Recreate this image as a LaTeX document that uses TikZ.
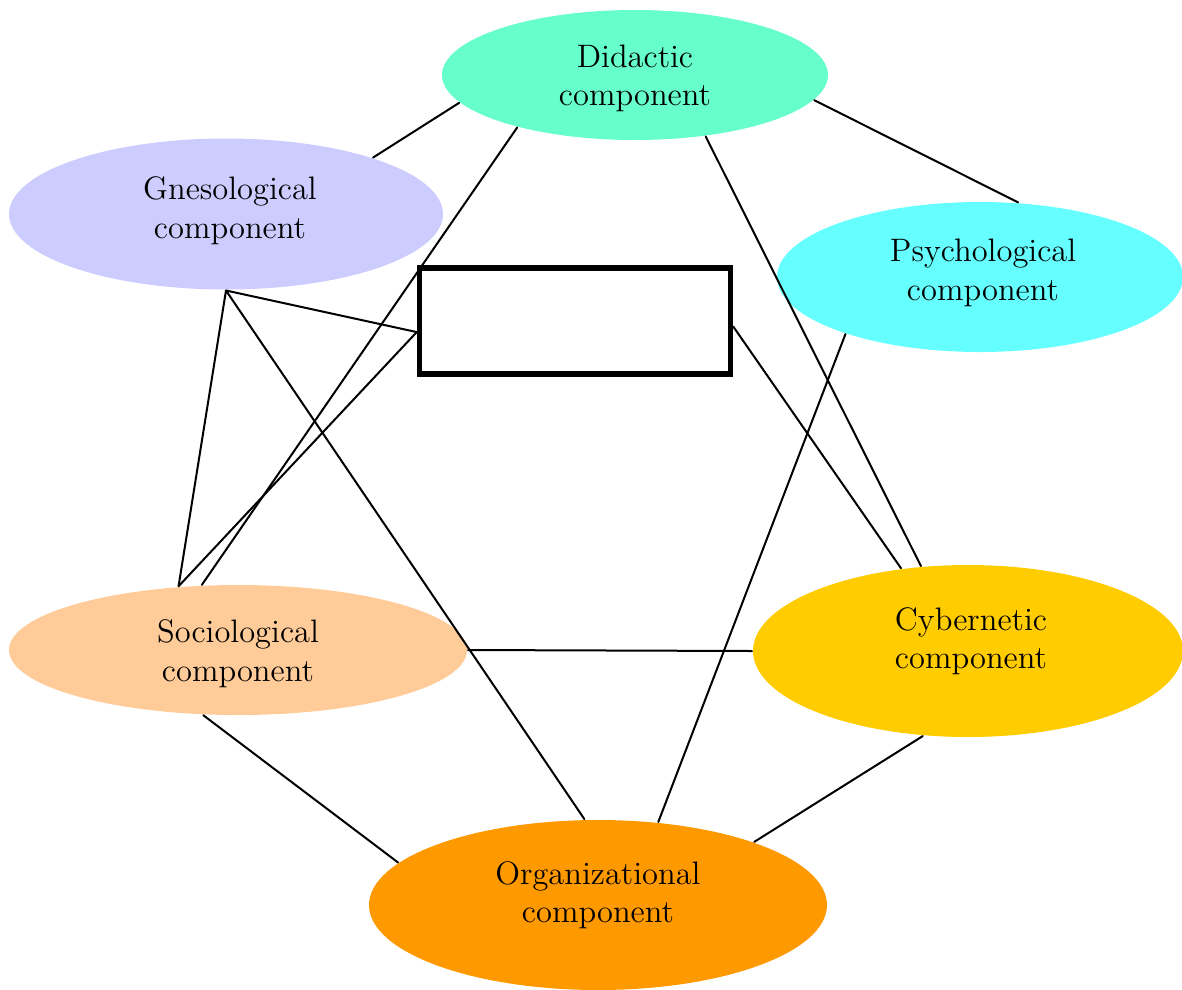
\documentclass[tikz,border=0pt]{standalone}
\usetikzlibrary{shapes.geometric}
\definecolor{didcol}{HTML}{66FFCC}
\definecolor{gnecol}{HTML}{CCCCFF}
\definecolor{psycol}{HTML}{66FFFF}
\definecolor{soccol}{HTML}{FFCC99}
\definecolor{cybcol}{HTML}{FFCC00}
\definecolor{orgcol}{HTML}{FF9900}
\begin{document}
\begin{tikzpicture}[line join=round, line cap=round, font=\fontsize{13}{15.4}\selectfont, x=.4pt, y=-.4pt, line width=.8pt,
    comp/.style={ellipse, inner sep=0pt},
    every label/.style={align=center, inner sep=0pt},
    blank/.style={draw, line width=2.2pt, line join=miter, inner sep=0pt, minimum width=124.4pt, minimum height=42.4pt}]
        \useasboundingbox (0,0) rectangle (1182,989);
        \node[comp, fill=didcol, minimum width=154.4pt, minimum height=52pt, label={[name=didtxt, yshift=-1.4pt]center:{Didactic\\component}}] (did) at (635,75) {};
        \node[comp, fill=gnecol, minimum width=173.6pt, minimum height=60.4pt, label={[name=gnetxt, xshift=1.6pt, yshift=1.4pt]center:{Gnesological\\component}}] (gne) at (226,214) {};
        \node[comp, fill=psycol, minimum width=162.4pt, minimum height=60pt, label={[name=psytxt, xshift=1.2pt, yshift=1.6pt]center:{Psychological\\component}}] (psy) at (980,277) {};
        \node[comp, fill=soccol, minimum width=183.2pt, minimum height=52pt, label={[name=soctxt, yshift=-1.4pt]center:{Sociological\\component}}] (soc) at (238,650) {};
        \node[comp, fill=cybcol, minimum width=172pt, minimum height=68.8pt, label={[name=cybtxt, xshift=1.2pt, yshift=4pt]center:{Cybernetic\\component}}] (cyb) at (968,651) {};
        \node[comp, fill=orgcol, minimum width=183.2pt, minimum height=68pt, label={[name=orgtxt, yshift=4pt]center:{Organizational\\component}}] (org) at (598,905) {};
        \node[blank] (box) at (575,321) {};
        \draw (gne.21) -- (did.189);
        \draw (did.352) -- (psy.63);
        \draw (did.204) -- (soc.119);
        \draw (did.319) -- (cyb.119);
        \draw (gne.south) -- (box.184) (gne.south) -- (soc.133) (gne.south) -- (org.99);
        \draw (box.184) -- (soc.133);
        \draw (box.358) -- (cyb.129);
        \draw (psy.203) -- (org.54);
        \draw (soc.east) -- (cyb.west);
        \draw (soc.242) -- (org.168);
        \draw (cyb.242) -- (org.22);
    \end{tikzpicture}
\end{document}
